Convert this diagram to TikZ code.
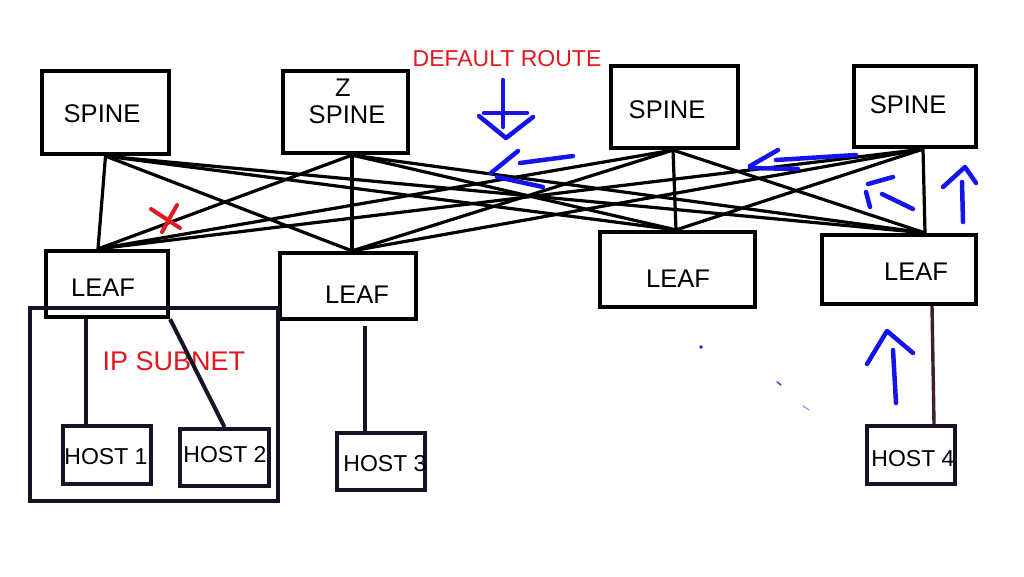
\documentclass[tikz,border=0pt]{standalone}
\usepackage{fontspec}
\setmainfont{Liberation Sans}
\definecolor{redtxt}{RGB}{225,25,30}
\definecolor{penblue}{RGB}{20,20,235}
\definecolor{navy}{RGB}{20,20,38}
\definecolor{brownline}{RGB}{60,36,36}
\tikzset{
  box/.style={draw=black, line width=4.2pt, inner sep=0pt},
  hostbox/.style={draw=navy, line width=4pt, inner sep=0pt, minimum width=88pt, minimum height=58pt},
  mesh/.style={draw=black, line width=3.2pt},
  hostlink/.style={draw=navy, line width=4pt},
  pen/.style={draw=penblue, line width=4.5pt, line cap=round, line join=round},
  bigtxt/.style={inner sep=0pt, font=\fontsize{25.5}{30}\selectfont},
  hosttxt/.style={inner sep=0pt, font=\fontsize{23}{28}\selectfont},
  redlabel/.style={inner sep=0pt, text=redtxt}
}
\begin{document}
\begin{tikzpicture}[x=1pt,y=-1pt]
\useasboundingbox[fill=white] (0,0) rectangle (1024,576);

% spine boxes
\node[box, minimum width=127pt, minimum height=83pt] (S1) at (105.5,112.5) {};
\node[box, minimum width=125pt, minimum height=82pt] (S2) at (345.5,112) {};
\node[box, minimum width=127pt, minimum height=82pt] (S3) at (674.5,107) {};
\node[box, minimum width=122pt, minimum height=81pt] (S4) at (915,106.5) {};
% leaf boxes
\node[box, minimum width=122pt, minimum height=66pt] (L1) at (107,284) {};
\node[box, minimum width=136pt, minimum height=66pt] (L2) at (348,286) {};
\node[box, minimum width=155pt, minimum height=75pt] (L3) at (677.5,269.5) {};
\node[box, minimum width=154pt, minimum height=69pt] (L4) at (899,269.5) {};
% subnet
\node[draw=navy, line width=3.6pt, minimum width=248pt, minimum height=193pt, inner sep=0pt] (SUB) at (154,404.5) {};
% hosts
\node[hostbox] (H1) at (107,455) {};
\node[hostbox, minimum width=89pt, minimum height=57pt] (H2) at (224.5,457.5) {};
\node[hostbox, minimum height=57pt] (H3) at (381,461.5) {};
\node[hostbox] (H4) at (911,455) {};

% texts
\node[bigtxt] (t1) at (102,114) {SPINE};
\node[bigtxt] (tz) at (343,88) {Z};
\node[bigtxt] (t2) at (347,115) {SPINE};
\node[bigtxt] (t3) at (667,110) {SPINE};
\node[bigtxt] (t4) at (908,105) {SPINE};
\node[bigtxt] (tl1) at (103,288) {LEAF};
\node[bigtxt] (tl2) at (357,295) {LEAF};
\node[bigtxt] (tl3) at (678,279) {LEAF};
\node[bigtxt] (tl4) at (916,272) {LEAF};
\node[hosttxt] (th1) at (106,457) {HOST 1};
\node[hosttxt] (th2) at (225,455) {HOST 2};
\node[hosttxt] (th3) at (385,464) {HOST 3};
\node[hosttxt] (th4) at (913,459) {HOST 4};
\node[redlabel, font=\fontsize{27}{32}\selectfont] (sub) at (174,361) {IP SUBNET};
\node[redlabel, font=\fontsize{23}{28}\selectfont] (dr) at (507,59) {DEFAULT ROUTE};

% ports
\coordinate (s1p) at (S1.south);
\coordinate (s2p) at ([xshift=6.5pt]S2.south);
\coordinate (s3p) at ([xshift=-1.5pt]S3.south);
\coordinate (s4p) at ([xshift=8pt]S4.south);
\coordinate (l1p) at ([xshift=-9pt]L1.north);
\coordinate (l2p) at ([xshift=4pt]L2.north);
\coordinate (l3p) at ([xshift=-1.5pt]L3.north);
\coordinate (l4p) at ([xshift=26pt]L4.north);

% full mesh
\foreach \s in {s1p,s2p,s3p,s4p}{
  \foreach \l in {l1p,l2p,l3p,l4p}{
    \draw[mesh] (\s) -- (\l);
  }
}

% host links
\draw[hostlink] ([xshift=-21pt]L1.south) -- ([xshift=-21pt]H1.north);
\draw[hostlink] (L1.south east) -- (H2.north);
\draw[hostlink] ([xshift=17pt,yshift=-5pt]L2.south) -- ([xshift=-16pt]H3.north);
\draw[draw=brownline, line width=3.4pt] ([xshift=33pt]L4.south) -- ([xshift=23pt]H4.north);

% red cross
\draw[draw=redtxt, line width=4pt, line cap=round] (151,209) -- (180,228);
\draw[draw=redtxt, line width=4pt, line cap=round] (177,205) -- (162,232);

% blue pen marks
% down arrow under DEFAULT ROUTE
\draw[pen] (503,80) -- (503,127);
\draw[pen] (484,113) -- (527,113);
\draw[pen] (479,116) -- (506,138) -- (533,117);
% left arrow in middle
\draw[pen] (518,151) -- (491,173);
\draw[pen] (497,177) -- (543,187);
\draw[pen] (520,163) -- (573,156);
% left arrow near right spine
\draw[pen] (856,155) -- (776,160);
\draw[pen] (778,150) -- (750,166);
\draw[pen] (750,168) -- (798,169);
% small up-left arrow
\draw[pen] (868,184) -- (893,177);
\draw[pen] (866,192) -- (870,207);
\draw[pen] (882,194) -- (913,209);
% up arrow right of spine
\draw[pen] (963,222) -- (962,182);
\draw[pen] (943,187) -- (965,167) -- (976,183);
% up arrow near host 4
\draw[pen] (896,403) -- (893,350);
\draw[pen] (867,364) -- (887,331) -- (913,353);
% specks
\fill[penblue] (701,347) circle (1.8pt);
\draw[draw=penblue!80, line width=1.5pt, line cap=round] (777,382) -- (781,385);
\draw[draw=penblue!40, line width=1.5pt, line cap=round] (803,406) -- (809,410);
\end{tikzpicture}
\end{document}
